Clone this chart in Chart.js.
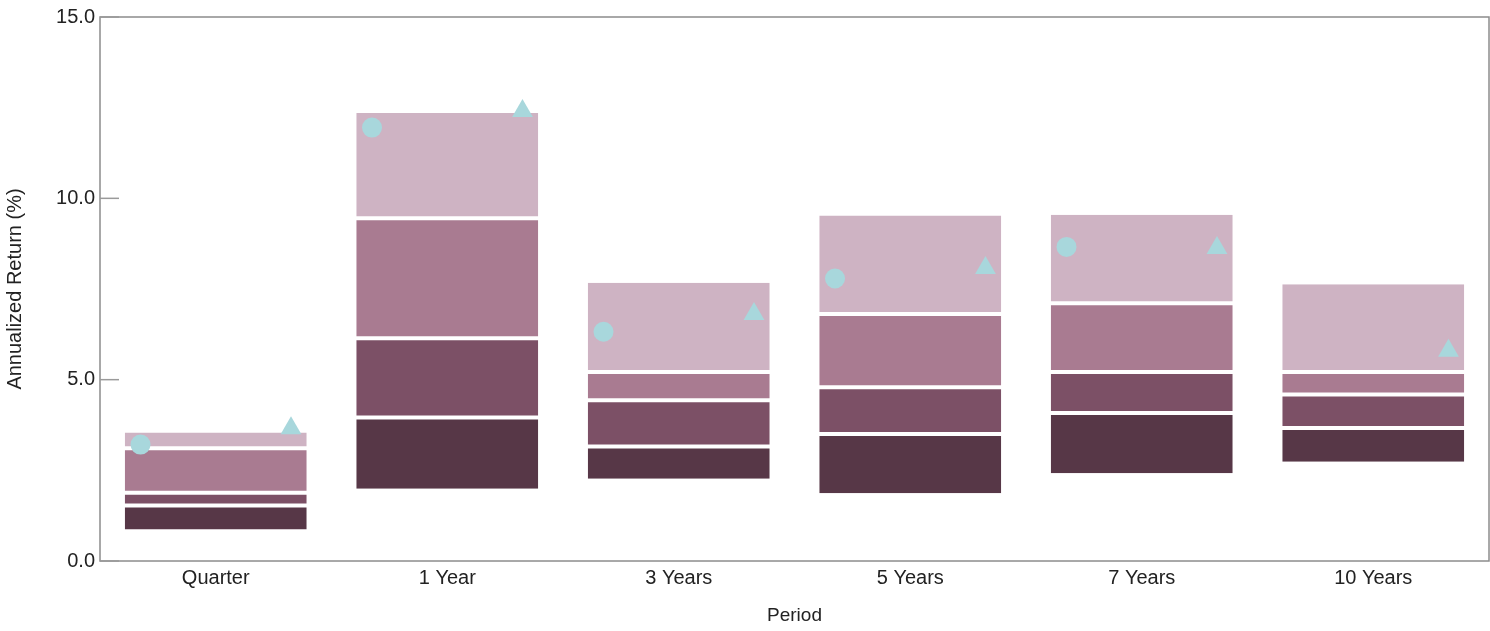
<!DOCTYPE html>
<html>
<head>
<meta charset="utf-8">
<script src="https://cdn.jsdelivr.net/npm/chart.js@4/dist/chart.umd.min.js"></script>
<style>
    html, body { margin: 0; padding: 0; background: #ffffff; }
    #wrap { width: 1490px; height: 631px; }
</style>
</head>
<body>
<div id="wrap"><canvas id="returnsChart"></canvas></div>
<script>
const periods = ['Quarter', '1 Year', '3 Years', '5 Years', '7 Years', '10 Years'];

// percentile band edges, from top of the range to the bottom
const pct5 = [3.54, 12.35, 7.67, 9.53, 9.55, 7.63];
const pct25 = [3.11, 9.45, 5.21, 6.81, 7.11, 5.21];
const pct50 = [1.88, 6.14, 4.43, 4.79, 5.21, 4.59];
const pct75 = [1.53, 3.96, 3.16, 3.50, 4.08, 3.67];
const pct95 = [0.87, 1.99, 2.27, 1.87, 2.42, 2.74];

const circleValues = [3.21, 11.95, 6.32, 7.79, 8.66, null];
const triangleValues = [3.66, 12.41, 6.81, 8.08, 8.63, 5.80];

const yTicks = [0, 5, 10, 15];

const COLORS = {
    band1: '#CEB3C3',
    band2: '#A97B91',
    band3: '#7C5066',
    band4: '#573747',
    marker: '#A8D7DC',
    axis: '#8C8C8C',
    text: '#222222',
};

const FONT = 'Arial, "Liberation Sans", sans-serif';
const MARKER_SHIFT = 0.325;

function band(upper, lower, color, borderWidth) {
    return {
        type: 'bar',
        data: periods.map((_, i) => [lower[i], upper[i]]),
        backgroundColor: color,
        borderColor: '#ffffff',
        borderWidth: borderWidth,
        borderSkipped: false,
        grouped: false,
        barPercentage: 0.786,
        categoryPercentage: 1,
        xAxisID: 'x',
    };
}

function markers(values, style, radius) {
    return {
        type: 'scatter',
        data: values.map((v, i) => (v === null ? null : { x: i + (style === 'circle' ? -MARKER_SHIFT : MARKER_SHIFT), y: v })).filter(Boolean),
        pointStyle: style,
        pointRadius: radius,
        pointHoverRadius: radius,
        backgroundColor: COLORS.marker,
        borderColor: COLORS.marker,
        borderWidth: 0,
        xAxisID: 'xm',
    };
}

// frame around the plot area plus short inside ticks on the y axis
const framePlugin = {
    id: 'frame',
    afterDraw(chart) {
        const { ctx, chartArea } = chart;
        const y = chart.scales.y;
        ctx.save();
        ctx.strokeStyle = COLORS.axis;
        ctx.lineWidth = 1.5;
        ctx.strokeRect(chartArea.left, chartArea.top, chartArea.right - chartArea.left, chartArea.bottom - chartArea.top);
        ctx.strokeStyle = '#9A9A9A';
        yTicks.forEach((t) => {
            const py = y.getPixelForValue(t);
            ctx.beginPath();
            ctx.moveTo(chartArea.left, py);
            ctx.lineTo(chartArea.left + 19, py);
            ctx.stroke();
        });
        ctx.restore();
    },
};

new Chart(document.getElementById('returnsChart').getContext('2d'), {
    data: {
        labels: periods,
        datasets: [
            markers(circleValues, 'circle', 10),
            markers(triangleValues, 'triangle', 12),
            band(pct5, pct25, COLORS.band1, { top: 0, bottom: 2, left: 0, right: 0 }),
            band(pct25, pct50, COLORS.band2, { top: 2, bottom: 2, left: 0, right: 0 }),
            band(pct50, pct75, COLORS.band3, { top: 2, bottom: 2, left: 0, right: 0 }),
            band(pct75, pct95, COLORS.band4, { top: 2, bottom: 0, left: 0, right: 0 }),
        ],
    },
    plugins: [framePlugin],
    options: {
        responsive: true,
        maintainAspectRatio: false,
        animation: false,
        layout: {
            autoPadding: false,
            padding: { top: 17, right: 1, left: 0, bottom: 0 },
        },
        plugins: {
            legend: { display: false },
            tooltip: { enabled: false },
        },
        scales: {
            x: {
                type: 'category',
                offset: true,
                grid: { display: false, drawTicks: false },
                border: { display: false },
                ticks: {
                    padding: 5,
                    color: COLORS.text,
                    font: { family: FONT, size: 20 },
                },
                title: {
                    display: true,
                    text: 'Period',
                    color: COLORS.text,
                    font: { family: FONT, size: 19 },
                    padding: { top: 4, bottom: 4 },
                },
                afterFit(scale) {
                    scale.height = 70;
                },
            },
            xm: {
                type: 'linear',
                display: false,
                min: -0.5,
                max: periods.length - 0.5,
            },
            y: {
                min: 0,
                max: 15,
                afterBuildTicks(scale) {
                    scale.ticks = yTicks.map((v) => ({ value: v }));
                },
                grid: { display: false, drawTicks: false },
                border: { display: false },
                ticks: {
                    padding: 5,
                    color: COLORS.text,
                    font: { family: FONT, size: 20 },
                    callback(value) {
                        return Number(value).toFixed(1);
                    },
                },
                title: {
                    display: true,
                    text: 'Annualized Return (%)',
                    color: COLORS.text,
                    font: { family: FONT, size: 20 },
                    padding: { top: 3, bottom: 4 },
                },
                afterFit(scale) {
                    scale.width = 100;
                },
            },
        },
    },
});
</script>
</body>
</html>
